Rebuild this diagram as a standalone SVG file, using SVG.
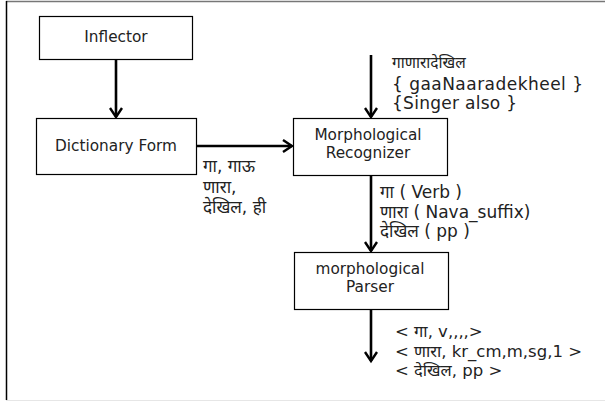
<svg xmlns="http://www.w3.org/2000/svg" width="605" height="404" viewBox="0 0 605 404">
<defs>
<style>
.box{fill:#fff;stroke:#000;stroke-width:1.2}
.t{font-family:"DejaVu Sans",sans-serif;font-size:15.3px;fill:#222;text-anchor:middle}
.l{font-family:"DejaVu Sans","Noto Sans Devanagari","Lohit Devanagari",sans-serif;font-size:17px;fill:#222}
.b{font-family:"DejaVu Sans","Noto Sans Devanagari","Lohit Devanagari",sans-serif;font-size:16.5px;fill:#222}
.s{font-family:"DejaVu Sans","Noto Sans Devanagari","Lohit Devanagari",sans-serif;font-size:17px;fill:#222}
.h{font-family:"DejaVu Sans","Noto Sans Devanagari","Lohit Devanagari",sans-serif;font-size:15.5px;fill:#222}
.e{fill:none;stroke:#000;stroke-width:2.6}
</style>
<marker id="ah" markerWidth="14" markerHeight="16" refX="10" refY="7" orient="auto" markerUnits="userSpaceOnUse">
<path d="M1,1 L10,7 L1,13" fill="none" stroke="#000" stroke-width="2.4"/>
</marker>
</defs>
<rect x="0" y="0" width="605" height="404" fill="#fff"/>
<line x1="6" y1="1.5" x2="605" y2="1.5" stroke="#777" stroke-width="1.5"/>
<line x1="6.5" y1="1" x2="6.5" y2="400" stroke="#000" stroke-width="1.5"/>
<line x1="6" y1="400.5" x2="605" y2="400.5" stroke="#e6e6e6" stroke-width="1"/>
<g id="connectors">
<line class="e" x1="116" y1="59" x2="116" y2="117" marker-end="url(#ah)"/>
<line class="e" x1="196" y1="146" x2="292" y2="146" marker-end="url(#ah)"/>
<line class="e" x1="371" y1="55" x2="371" y2="117" marker-end="url(#ah)"/>
<line class="e" x1="371" y1="176" x2="371" y2="251" marker-end="url(#ah)"/>
<line class="e" x1="371" y1="309" x2="371" y2="361" marker-end="url(#ah)"/>
<text class="s" x="203" y="172">गा, गाऊ</text>
<text class="s" x="203" y="193">णारा,</text>
<text class="s" x="203" y="213">देखिल, ही</text>
<text class="h" x="392" y="68">गाणारादेखिल</text>
<text class="l" x="392" y="90" textLength="191" lengthAdjust="spacing">{ gaaNaaradekheel }</text>
<text class="l" x="392" y="109" textLength="125" lengthAdjust="spacing">{Singer also }</text>
<text class="l" x="380" y="198">गा ( Verb )</text>
<text class="l" x="380" y="218">णारा ( Nava_suffix)</text>
<text class="l" x="380" y="237">देखिल ( pp )</text>
<text class="b" x="395" y="337">&lt; गा, v,,,,&gt;</text>
<text class="b" x="395" y="357">&lt; णारा, kr_cm,m,sg,1 &gt;</text>
<text class="b" x="395" y="376">&lt; देखिल, pp &gt;</text>
</g>
<g id="inflector">
<rect class="box" x="39.5" y="16.5" width="153" height="43"/>
<text class="t" x="116" y="42">Inflector</text>
</g>
<g id="dictionary-form">
<rect class="box" x="36.5" y="118.5" width="160" height="56"/>
<text class="t" x="116" y="151">Dictionary Form</text>
</g>
<g id="morphological-recognizer">
<rect class="box" x="293.5" y="118.5" width="154" height="57"/>
<text class="t" x="368" y="140">Morphological</text>
<text class="t" x="368" y="158">Recognizer</text>
</g>
<g id="morphological-parser">
<rect class="box" x="294.5" y="252.5" width="154" height="57"/>
<text class="t" x="370" y="274">morphological</text>
<text class="t" x="370" y="292">Parser</text>
</g>
</svg>
